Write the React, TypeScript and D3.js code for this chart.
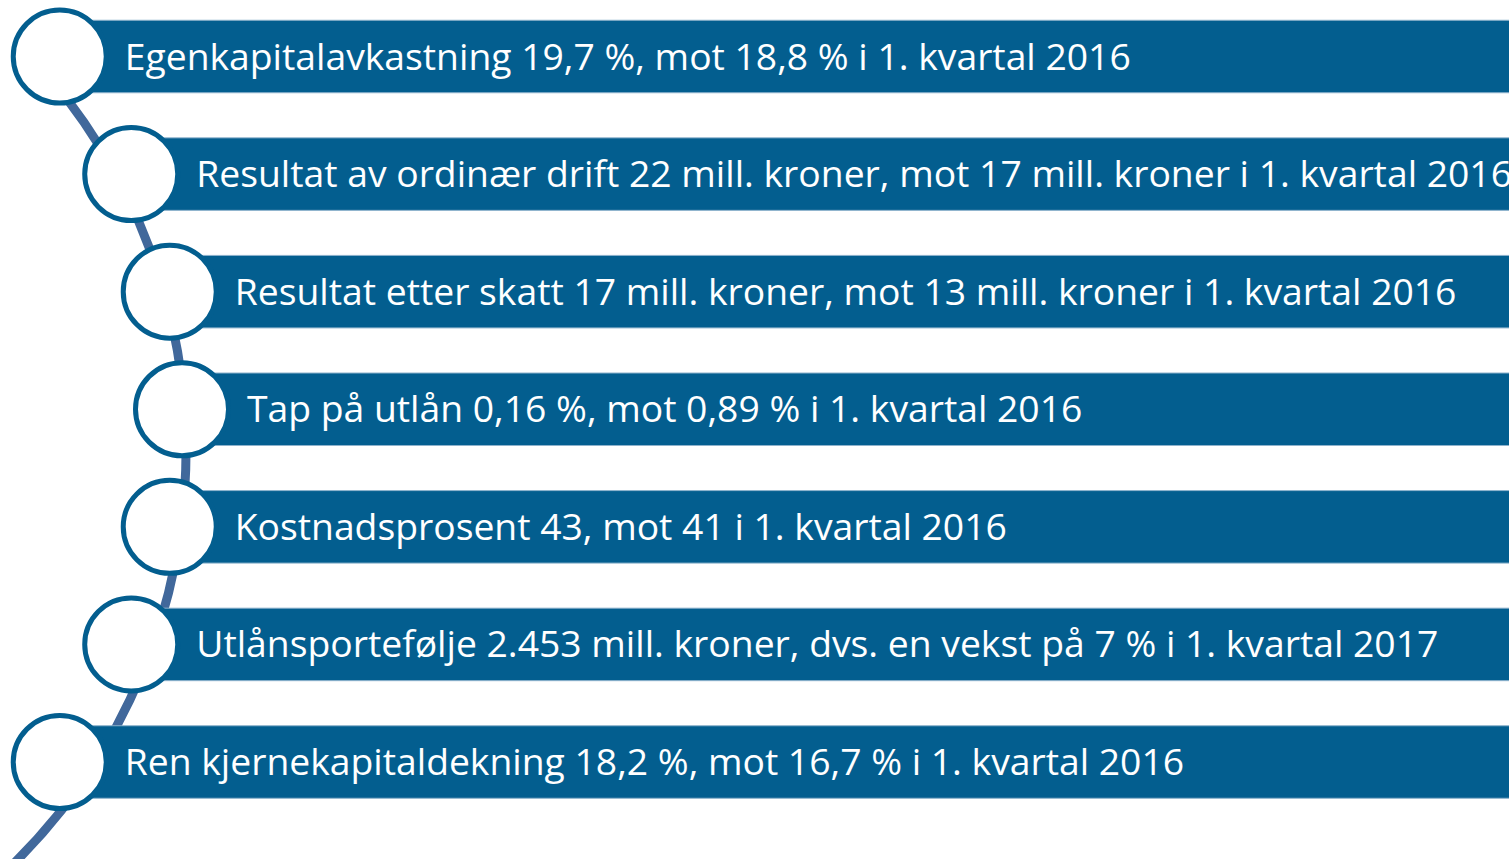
import React, { useEffect, useRef } from "react";
import * as d3 from "d3";

const items: string[] = [
  "Egenkapitalavkastning 19,7 %, mot 18,8 % i 1. kvartal 2016",
  "Resultat av ordinær drift 22 mill. kroner, mot 17 mill. kroner i 1. kvartal 2016",
  "Resultat etter skatt 17 mill. kroner, mot 13 mill. kroner i 1. kvartal 2016",
  "Tap på utlån 0,16 %, mot 0,89 % i 1. kvartal 2016",
  "Kostnadsprosent 43, mot 41 i 1. kvartal 2016",
  "Utlånsportefølje 2.453 mill. kroner, dvs. en vekst på 7 % i 1. kvartal 2017",
  "Ren kjernekapitaldekning 18,2 %, mot 16,7 % i 1. kvartal 2016",
];

const W = 1509;
const H = 859;
const BAR = "#035e8f";
const LINE = "#41689b";

export default function App() {
  const ref = useRef<SVGSVGElement | null>(null);

  useEffect(() => {
    const svg = d3.select(ref.current);
    svg.selectAll("*").remove();

    const y = d3
      .scaleLinear()
      .domain([0, items.length - 1])
      .range([56.5, 762]);
    const midY = y((items.length - 1) / 2);
    const R = 570;
    const peakX = 182;
    const cx = peakX - R;
    const circleX = (i: number) => cx + Math.sqrt(R * R - (y(i) - midY) ** 2);

    // connecting arc
    const aR = 580;
    const acx = -394;
    const acy = 451;
    const a0 = Math.atan2(56 - acy, Math.sqrt(aR * aR - (56 - acy) ** 2));
    const yEnd = 900;
    const a1 = Math.atan2(yEnd - acy, Math.sqrt(aR * aR - (yEnd - acy) ** 2));
    const p = d3.path();
    p.arc(acx, acy, aR, a0, a1, false);
    svg
      .append("path")
      .attr("d", p.toString())
      .attr("fill", "none")
      .attr("stroke", LINE)
      .attr("stroke-width", 9);

    const barH = 72.5;
    const g = svg
      .selectAll("g.item")
      .data(items)
      .enter()
      .append("g")
      .attr("class", "item");

    g.append("rect")
      .attr("x", (_, i) => circleX(i))
      .attr("y", (_, i) => y(i) - barH / 2)
      .attr("width", (_, i) => W + 10 - circleX(i))
      .attr("height", barH)
      .attr("fill", BAR)
      .attr("stroke", "#8db2cc")
      .attr("stroke-width", 1);

    g.append("circle")
      .attr("cx", (_, i) => circleX(i))
      .attr("cy", (_, i) => y(i))
      .attr("r", 46.5)
      .attr("fill", "#ffffff")
      .attr("stroke", BAR)
      .attr("stroke-width", 5);

    const texts = g
      .append("text")
      .attr("x", (_, i) => circleX(i) + 65)
      .attr("y", (_, i) => y(i) + 13)
      .attr("fill", "#ffffff")
      .attr("font-family", "'Open Sans', 'Noto Sans', sans-serif")
      .attr("font-size", 37)
      .text((d) => d);

    // scale text uniformly so first line matches reference width
    const first = texts.nodes()[0] as SVGTextElement;
    const natural = first.getComputedTextLength();
    const factor = 1006 / natural;
    texts.each(function () {
      const t = this as SVGTextElement;
      const len = t.getComputedTextLength();
      d3.select(t)
        .attr("textLength", len * factor)
        .attr("lengthAdjust", "spacingAndGlyphs");
    });
  }, []);

  return (
    <svg
      ref={ref}
      width={W}
      height={H}
      style={{ position: "fixed", left: 0, top: 0, background: "#ffffff" }}
    />
  );
}
